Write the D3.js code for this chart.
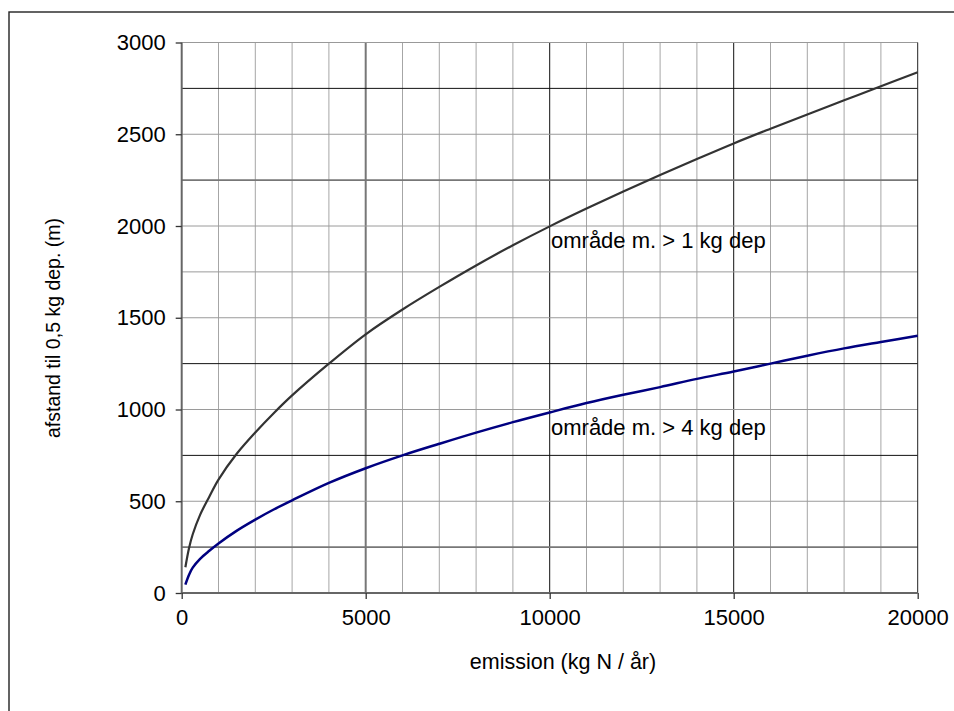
<!DOCTYPE html>
<html><head><meta charset="utf-8">
<script src="https://cdn.jsdelivr.net/npm/d3@7"></script>
<style>
html,body{margin:0;padding:0;background:#fff;}
svg text{font-family:"Liberation Sans",Arial,sans-serif;fill:#000;}
</style></head>
<body>
<svg id="c" width="954" height="711"></svg>
<script>
// ---- data ----
const emission = [100, 200, 300, 500, 750, 1000, 1500, 2000, 2500, 3000, 4000, 5000, 6000, 7000, 8000, 9000, 10000, 11000, 12000, 13000, 14000, 15000, 16000, 17000, 18000, 19000, 20000];
const dist1kg  = [140, 245, 320, 426, 525, 618, 760, 875, 980, 1077, 1250, 1410, 1545, 1668, 1785, 1895, 1998, 2095, 2188, 2278, 2365, 2450, 2530, 2608, 2685, 2762, 2838];
const dist4kg  = [46, 100, 138, 186, 230, 270, 340, 400, 455, 505, 600, 680, 750, 813, 874, 931, 984, 1035, 1080, 1122, 1167, 1207, 1250, 1293, 1333, 1368, 1402];
const xTicks = [0, 5000, 10000, 15000, 20000];
const yTicks = [0, 500, 1000, 1500, 2000, 2500, 3000];
const xTitle = "emission (kg N / år)";
const yTitle = "afstand til 0,5 kg dep. (m)";
const label1 = "område m. > 1 kg dep";
const label4 = "område m. > 4 kg dep";

const svg = d3.select("#c");
const x = d3.scaleLinear().domain([0, 20000]).range([181.7, 917.7]);
const y = d3.scaleLinear().domain([0, 3000]).range([593, 42.5]);

// outer chart border (only left & top visible)
svg.append("rect").attr("x", 9).attr("y", 12).attr("width", 1000).attr("height", 800)
  .attr("fill", "none").attr("stroke", "#222").attr("stroke-width", 1.4);

const g = svg.append("g");
// vertical gridlines every 1000
d3.range(1000, 20000, 1000).forEach(v => {
  let col = "#a6a6a6", w = 1;
  if (v === 5000) { col = "#777"; w = 2; }
  else if (v % 5000 === 0) { col = "#111"; w = 1; }
  g.append("line").attr("x1", x(v)).attr("x2", x(v)).attr("y1", y(0)).attr("y2", y(3000))
    .attr("stroke", col).attr("stroke-width", w);
});
// horizontal gridlines every 250
d3.range(250, 3000, 250).forEach(v => {
  let col = "#9a9a9a", w = 1;
  if (v === 2750 || v === 1250 || v === 750) { col = "#111"; w = 1; }
  else if (v === 2250 || v === 250) { col = "#777"; w = 1.6; }
  g.append("line").attr("x1", x(0)).attr("x2", x(20000)).attr("y1", y(v)).attr("y2", y(v))
    .attr("stroke", col).attr("stroke-width", w);
});
// plot frame
g.append("line").attr("x1", x(0)).attr("x2", x(20000)).attr("y1", y(3000)).attr("y2", y(3000)).attr("stroke", "#999").attr("stroke-width", 1);
g.append("line").attr("x1", x(20000)).attr("x2", x(20000)).attr("y1", y(0)).attr("y2", y(3000)).attr("stroke", "#222").attr("stroke-width", 1);

// axes
const xAxis = d3.axisBottom(x).tickValues(xTicks).tickSize(6).tickPadding(10).tickFormat(d3.format("d"));
const yAxis = d3.axisLeft(y).tickValues(yTicks).tickSize(6).tickPadding(10).tickFormat(d3.format("d"));
const gx = svg.append("g").attr("transform", `translate(0,${y(0)})`).call(xAxis);
const gy = svg.append("g").attr("transform", `translate(${x(0)},0)`).call(yAxis);
[gx, gy].forEach(a => {
  a.select(".domain").attr("stroke", "#666").attr("stroke-width", 2);
  a.selectAll(".tick line").attr("stroke", "#333").attr("stroke-width", 1.3);
  a.selectAll(".tick text").style("font-size", "22px").attr("fill", "#000");
});
gy.select(".domain").attr("d", `M0,${y(0)}V${y(3000)}`);
gx.select(".domain").attr("d", `M${x(0)},0H${x(20000)}`);

// curves
const line = d3.line().x(d => x(d[0])).y(d => y(d[1])).curve(d3.curveCatmullRom.alpha(0.5));
svg.append("path").datum(emission.map((e, i) => [e, dist1kg[i]])).attr("d", line)
  .attr("fill", "none").attr("stroke", "#333").attr("stroke-width", 2.2);
svg.append("path").datum(emission.map((e, i) => [e, dist4kg[i]])).attr("d", line)
  .attr("fill", "none").attr("stroke", "#000080").attr("stroke-width", 2.5);

// labels
svg.append("text").attr("x", 551).attr("y", 248).style("font-size", "22px").text(label1);
svg.append("text").attr("x", 551).attr("y", 435).style("font-size", "22px").text(label4);

// axis titles
svg.append("text").attr("x", 563).attr("y", 669).attr("text-anchor", "middle")
  .style("font-size", "21.5px").text(xTitle);
svg.append("text").attr("transform", "translate(60,328) rotate(-90)").attr("text-anchor", "middle")
  .style("font-size", "19.5px").text(yTitle);
</script>
</body></html>
